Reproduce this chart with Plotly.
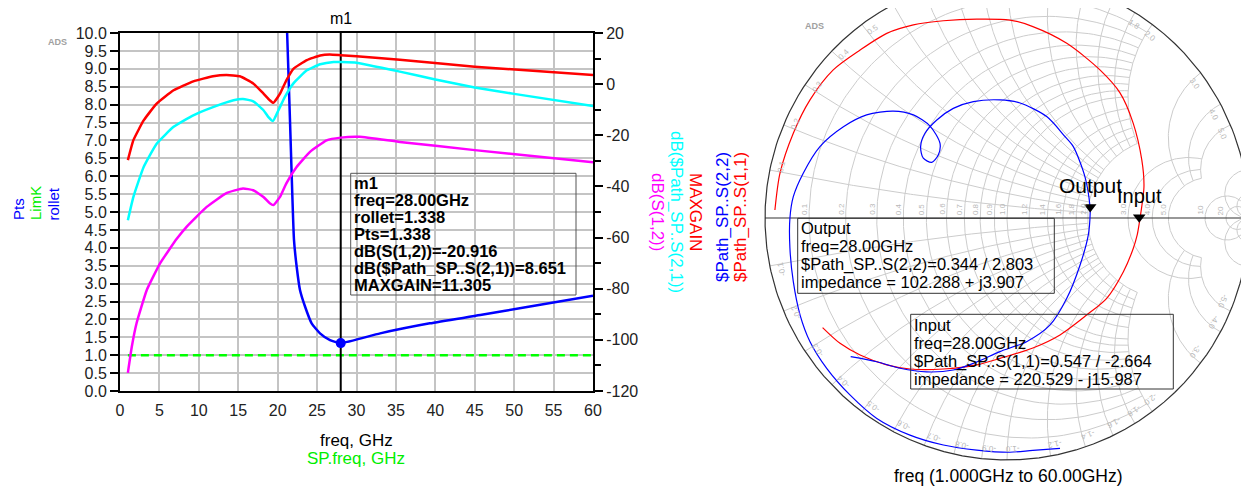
import numpy as np
import plotly.graph_objects as go

# The page body keeps its default 8px margin; the figure fills the rest of the window.
PAGE_W, PAGE_H, OFF = 1249, 496, 8
W, H = PAGE_W - 2 * OFF, PAGE_H - 2 * OFF
FONT = "Liberation Sans, Arial, sans-serif"

# ---------------- data ----------------
# Left plot, right (dB) axis
freq_maxgain = [1.0, 1.7, 3.0, 4.65, 6.8, 9.3, 11.8, 13.5, 15.2, 16.9, 18.2, 19.0, 19.45, 20.3,
                21.1, 22.0, 23.7, 25.4, 26.6, 28.0, 30.0, 35.5, 45.0, 60.0]
maxgain_db = [-29.7, -21.9, -14.2, -7.6, -2.4, 1.1, 3.1, 3.6, 3.1, 0.3, -3.7, -6.3, -7.3, -3.7,
              1.5, 6.0, 9.4, 11.2, 11.6, 11.305, 10.9, 9.5, 6.8, 3.6]

freq_s21 = [1.0, 1.7, 3.0, 4.65, 6.8, 9.3, 11.8, 14.4, 15.6, 16.9, 18.2, 18.8, 19.4, 20.1, 20.9,
            22.0, 23.7, 25.4, 27.1, 28.0, 30.0, 35.5, 40.0, 45.0, 50.0, 60.0]
s21_db = [-53.2, -44.1, -32.4, -23.3, -16.7, -12.2, -9.0, -6.3, -5.8, -6.7, -10.2, -12.8, -14.4,
          -10.2, -5.1, 0.3, 5.4, 7.8, 8.7, 8.651, 8.4, 4.9, 1.8, -1.3, -3.8, -8.6]

freq_s12 = [1.0, 1.5, 2.1, 3.4, 5.1, 7.2, 8.5, 11.0, 13.5, 15.6, 16.9, 18.2, 19.0, 19.45, 20.3,
            21.1, 22.4, 24.1, 26.2, 28.0, 30.4, 35.5, 45.0, 60.0]
s12_db = [-112.9, -102.6, -93.5, -80.5, -70.0, -60.5, -55.6, -48.0, -42.6, -40.8, -41.5, -44.1,
          -46.6, -47.3, -44.1, -38.8, -32.4, -26.5, -22.0, -20.916, -20.6, -22.6, -25.8, -30.5]

# Left plot, left axis
freq_rollet = [20.5, 21.2, 21.6, 22.07, 22.41, 22.83, 23.47, 24.31, 25.37, 26.64, 28.0, 33.0,
               39.3, 45.7, 52.0, 60.0]
rollet = [14.0, 10.0, 7.3, 4.22, 3.47, 2.82, 2.36, 1.89, 1.61, 1.42, 1.338, 1.61, 1.89, 2.12,
          2.36, 2.66]
freq_limk = [1.0, 60.0]
limk = [1.0, 1.0]

y2_tickvals = [20, 0, -20, -40, -60, -80, -100, -120]
y2_ticktext = ["20", "0", "-20", "-40", "-60", "-80", "-100", "-120"]

# marker m1
m1_freq = 28.0
m1_rollet = 1.338
m1_lines = ["m1", "freq=28.00GHz", "rollet=1.338", "Pts=1.338", "dB(S(1,2))=-20.916",
            "dB($Path_SP..S(2,1))=8.651", "MAXGAIN=11.305"]

# Smith chart: reflection coefficients (real, imag), 1 GHz -> 60 GHz
s11_re = [-0.959, -0.938, -0.883, -0.814, -0.718, -0.607, -0.497, -0.387, -0.263, -0.125, 0.012,
          0.107, 0.247, 0.384, 0.467, 0.521, 0.557, 0.566, 0.553, 0.546, 0.538, 0.522, 0.481,
          0.412, 0.329, 0.219, 0.107, -0.029, -0.125, -0.263, -0.401, -0.497, -0.607, -0.690,
          -0.762]
s11_im = [0.033, 0.185, 0.350, 0.488, 0.612, 0.694, 0.763, 0.798, 0.815, 0.822, 0.818, 0.791,
          0.722, 0.612, 0.517, 0.393, 0.240, 0.129, 0.021, -0.025, -0.070, -0.125, -0.222,
          -0.332, -0.401, -0.483, -0.537, -0.580, -0.607, -0.624, -0.624, -0.607, -0.566,
          -0.518, -0.453]
s22_re = [0.219, 0.107, 0.012, -0.125, -0.263, -0.401, -0.538, -0.649, -0.745, -0.814, -0.855,
          -0.883, -0.897, -0.897, -0.883, -0.842, -0.773, -0.676, -0.580, -0.470, -0.387,
          -0.318, -0.277, -0.284, -0.311, -0.346, -0.357, -0.339, -0.290, -0.222, -0.139,
          -0.029, 0.054, 0.164, 0.240, 0.274, 0.322, 0.343, 0.3436, 0.336, 0.302, 0.247, 0.178,
          0.081, -0.029, -0.125, -0.222, -0.332, -0.442, -0.538, -0.646]
s22_im = [-0.952, -0.960, -0.968, -0.959, -0.938, -0.897, -0.828, -0.731, -0.621, -0.511,
          -0.401, -0.263, -0.125, 0.000, 0.088, 0.185, 0.295, 0.377, 0.426, 0.442, 0.426, 0.380,
          0.309, 0.260, 0.230, 0.247, 0.295, 0.350, 0.405, 0.453, 0.481, 0.488, 0.475, 0.419,
          0.336, 0.295, 0.171, 0.047, 0.0168, -0.070, -0.194, -0.332, -0.442, -0.511, -0.552,
          -0.595, -0.628, -0.636, -0.621, -0.594, -0.573]

# marker values (magnitude / angle in degrees)
s11_mag, s11_ang = 0.547, -2.664
s22_mag, s22_ang = 0.344, 2.803
output_lines = ["Output", "freq=28.00GHz", "$Path_SP..S(2,2)=0.344 / 2.803",
                "impedance = 102.288 + j3.907"]
input_lines = ["Input", "freq=28.00GHz", "$Path_SP..S(1,1)=0.547 / -2.664",
               "impedance = 220.529 - j15.987"]

# Smith grid values
r_fine = [0.1, 0.2, 0.3, 0.4, 0.5, 0.6, 0.7, 0.8, 0.9, 1.0, 1.2, 1.4, 1.6, 1.8, 2.0]
r_mid = [3.0, 4.0, 5.0]
r_big = [10.0, 20.0]

# ---------------- layout helpers (window pixel -> paper) ----------------
def px(x):
    return (x - OFF) / W


def py(y):
    return 1 - (y - OFF) / H


XL0, XL1, YT, YB = 120, 593, 33, 391
CX, CY, R = 1007, 218, 242          # Smith chart centre / radius in window pixels
SM_X0 = 0.58
sm_left_px = OFF + SM_X0 * W
sm_right_px = OFF + W

fig = go.Figure()

# ---------------- left chart ----------------
fig.add_trace(go.Scatter(x=freq_limk, y=limk, mode="lines", xaxis="x", yaxis="y",
                         line=dict(color="#00ff00", width=2.5, dash="8px,5px"), hoverinfo="skip"))
fig.add_trace(go.Scatter(x=freq_rollet, y=rollet, mode="lines", xaxis="x", yaxis="y",
                         line=dict(color="#0000ff", width=2.5, shape="spline", smoothing=0.5)))
fig.add_trace(go.Scatter(x=freq_maxgain, y=maxgain_db, mode="lines", xaxis="x", yaxis="y2",
                         line=dict(color="#ff0000", width=2.5, shape="spline", smoothing=0.4)))
fig.add_trace(go.Scatter(x=freq_s21, y=s21_db, mode="lines", xaxis="x", yaxis="y2",
                         line=dict(color="#00ffff", width=2.5, shape="spline", smoothing=0.4)))
fig.add_trace(go.Scatter(x=freq_s12, y=s12_db, mode="lines", xaxis="x", yaxis="y2",
                         line=dict(color="#ff00ff", width=2.5, shape="spline", smoothing=0.4)))
# marker line m1
fig.add_trace(go.Scatter(x=[m1_freq, m1_freq], y=[0, 10], mode="lines", xaxis="x", yaxis="y",
                         line=dict(color="black", width=2), hoverinfo="skip"))
fig.add_trace(go.Scatter(x=[m1_freq, m1_freq], y=[10.12, -0.12], mode="markers", xaxis="x",
                         yaxis="y", cliponaxis=False,
                         marker=dict(symbol=["triangle-down", "triangle-up"], size=10,
                                     color="black")))
fig.add_trace(go.Scatter(x=[m1_freq], y=[m1_rollet], mode="markers", xaxis="x", yaxis="y",
                         marker=dict(symbol="circle", size=10, color="#0000ff")))

# ---------------- Smith chart ----------------
def zg(z):
    return (z - 1) / (z + 1)


def r_circle(r, xmax):
    xs = np.geomspace(1e-3, xmax, 260)
    x = np.concatenate([-xs[::-1], [0.0], xs])
    return zg(r + 1j * x)


def x_arc(x, rmax):
    rs = np.concatenate([[0.0], np.geomspace(1e-3, rmax, 260)])
    return zg(rs + 1j * x)


gx, gy = [], []


def add_curve(g):
    gx.extend(list(g.real) + [None])
    gy.extend(list(g.imag) + [None])


for r in r_fine:
    add_curve(r_circle(r, 2.0))
for r in r_mid:
    add_curve(r_circle(r, 5.0))
for r in r_big:
    add_curve(r_circle(r, 1e4))
for xv in r_fine:
    add_curve(x_arc(xv, 2.0))
    add_curve(x_arc(-xv, 2.0))
for xv in r_mid:
    add_curve(x_arc(xv, 5.0))
    add_curve(x_arc(-xv, 5.0))
for xv in r_big:
    add_curve(x_arc(xv, 1e4))
    add_curve(x_arc(-xv, 1e4))

fig.add_trace(go.Scatter(x=gx, y=gy, mode="lines", xaxis="x3", yaxis="y3",
                         line=dict(color="#cccccc", width=1), hoverinfo="skip"))
# real axis and outer circle
ax_line = zg(np.array([0.0, 1e9]))
fig.add_trace(go.Scatter(x=list(ax_line.real), y=[0, 0], mode="lines", xaxis="x3", yaxis="y3",
                         line=dict(color="#333333", width=1.2), hoverinfo="skip"))
outer = r_circle(0.0, 1e6)
fig.add_trace(go.Scatter(x=outer.real, y=outer.imag, mode="lines", xaxis="x3", yaxis="y3",
                         line=dict(color="#333333", width=1.2), hoverinfo="skip"))

fig.add_trace(go.Scatter(x=s11_re, y=s11_im, mode="lines", xaxis="x3", yaxis="y3",
                         line=dict(color="#ff0000", width=1.2, shape="spline", smoothing=0.8)))
fig.add_trace(go.Scatter(x=s22_re, y=s22_im, mode="lines", xaxis="x3", yaxis="y3",
                         line=dict(color="#0000ff", width=1.2, shape="spline", smoothing=0.8)))

g11 = s11_mag * np.exp(1j * np.deg2rad(s11_ang))
g22 = s22_mag * np.exp(1j * np.deg2rad(s22_ang))
off = 7.0 / R
fig.add_trace(go.Scatter(x=[g22.real, g11.real], y=[g22.imag + off, g11.imag + off],
                         mode="markers", xaxis="x3", yaxis="y3",
                         marker=dict(symbol="triangle-down", size=11, color="black")))

ann = []
grid_lbl = dict(color="#b8b8b8", size=8, family=FONT)


def lab(v):
    return f"{v:.1f}" if v < 10 else f"{int(v)}"


for r in r_fine + r_mid + r_big:
    ann.append(dict(x=(r - 1) / (r + 1), y=0, xref="x3", yref="y3", text=lab(r), textangle=-90,
                    xanchor="center", yanchor="bottom", xshift=-5, yshift=1, showarrow=False,
                    font=grid_lbl))
for xv in r_fine + r_mid + r_big:
    for sgn in (1, -1):
        g0 = zg(1j * sgn * xv)
        phi = np.angle(g0) - sgn * 0.025
        pos = 0.955 * np.exp(1j * phi)
        # skip labels that would fall off the visible window
        if CY - pos.imag * R < OFF + 12 or CX + pos.real * R > sm_right_px - 8:
            continue
        ang = 90 - np.degrees(phi)
        ann.append(dict(x=pos.real, y=pos.imag, xref="x3", yref="y3",
                        text=("" if sgn > 0 else "-") + lab(xv), textangle=float(ang),
                        xanchor="center", yanchor="middle", showarrow=False, font=grid_lbl))

ann.append(dict(x=g22.real, y=g22.imag, xref="x3", yref="y3", text="Output", xanchor="center",
                yanchor="bottom", yshift=15, showarrow=False,
                font=dict(size=21, color="black", family=FONT)))
ann.append(dict(x=g11.real, y=g11.imag, xref="x3", yref="y3", text="Input", xanchor="center",
                yanchor="bottom", yshift=15, showarrow=False,
                font=dict(size=20, color="black", family=FONT)))

# ---------------- text annotations ----------------
def text_at(x, y, t, size, color="black", xa="center", ya="middle", angle=0):
    ann.append(dict(x=px(x), y=py(y), xref="paper", yref="paper", text=t, showarrow=False,
                    xanchor=xa, yanchor=ya, textangle=angle,
                    font=dict(size=size, color=color, family=FONT)))


text_at(18, 222, "Pts", 15, "#0000ff", ya="bottom", angle=-90)
text_at(35, 222, "LimK", 15, "#00ee00", ya="bottom", angle=-90)
text_at(53, 222, "rollet", 15, "#0000ff", ya="bottom", angle=-90)
text_at(658, 212, "dB(S(1,2))", 17, "#ff00ff", angle=90)
text_at(677, 212, "dB($Path_SP..S(2,1))", 17, "#00ffff", angle=90)
text_at(696, 212, "MAXGAIN", 17, "#ff0000", angle=90)
text_at(722, 217, "$Path_SP..S(2,2)", 17, "#0000ff", angle=-90)
text_at(740, 217, "$Path_SP..S(1,1)", 17, "#ff0000", angle=-90)
text_at(356, 440, "freq, GHz", 17)
text_at(356, 458, "SP.freq, GHz", 17, "#00ee00")
text_at(1008, 488, "freq (1.000GHz to 60.00GHz)", 17.5, ya="bottom")
text_at(57, 42, "<b>ADS</b>", 9, "#a0a0a0")
text_at(814, 26, "<b>ADS</b>", 9, "#a0a0a0")
ann.append(dict(x=m1_freq, y=py(OFF + 0.5), xref="x", yref="paper", text="m1", showarrow=False,
                xanchor="center", yanchor="top", borderpad=0,
                font=dict(size=16, color="black", family=FONT)))

for i, t in enumerate(m1_lines):
    text_at(352, 182.7 + 17.05 * i, "<b>" + t + "</b>", 16.5, xa="left")
for i, t in enumerate(output_lines):
    text_at(799, 228 + 18 * i, t, 16.5, xa="left")
for i, t in enumerate(input_lines):
    text_at(912, 325 + 18 * i, t, 16.5, xa="left")

shapes = [
    dict(type="rect", xref="paper", yref="paper", x0=px(350.7), x1=px(576), y0=py(295),
         y1=py(173.3), line=dict(color="#555555", width=1), layer="above"),
    dict(type="rect", xref="paper", yref="paper", x0=px(797.7), x1=px(1054.3), y0=py(293.3),
         y1=py(218.3), line=dict(color="#333333", width=1), layer="above"),
    dict(type="rect", xref="paper", yref="paper", x0=px(910.7), x1=px(1173.3), y0=py(389),
         y1=py(314.3), line=dict(color="#333333", width=1), layer="above"),
]

tickfont = dict(size=16, color="#222222", family=FONT)
fig.update_layout(
    width=W, height=H, margin=dict(l=0, r=0, t=0, b=0, pad=0, autoexpand=False),
    paper_bgcolor="white", plot_bgcolor="white", showlegend=False,
    font=dict(family=FONT),
    xaxis=dict(domain=[px(XL0), px(XL1)], range=[0, 60], dtick=5, tick0=0, anchor="y",
               showgrid=True, gridcolor="#c4c4c4", gridwidth=2, zeroline=False, automargin=False,
               showline=True, mirror=True, linecolor="black", linewidth=2,
               ticks="", tickfont=tickfont, ticklabelstandoff=4),
    yaxis=dict(domain=[py(YB), py(YT)], range=[0, 10], dtick=0.5, tick0=0, tickformat=".1f",
               anchor="x", showgrid=True, gridcolor="#c4c4c4", gridwidth=2, zeroline=False,
               automargin=False, showline=True, mirror=True, linecolor="black", linewidth=2,
               ticks="outside", ticklen=8, tickwidth=2, tickcolor="black", tickfont=tickfont),
    yaxis2=dict(overlaying="y", side="right", anchor="x", range=[-120, 20], automargin=False,
                tickmode="array", tickvals=y2_tickvals, ticktext=y2_ticktext,
                showgrid=False, zeroline=False, showline=True, linecolor="black", linewidth=2,
                ticks="outside", ticklen=8, tickwidth=2, tickcolor="black", tickfont=tickfont,
                minor=dict(tickmode="linear", tick0=-120, dtick=10, ticks="outside",
                           ticklen=6, tickwidth=2, tickcolor="black")),
    xaxis3=dict(domain=[SM_X0, 1.0], range=[(sm_left_px - CX) / R, (sm_right_px - CX) / R],
                anchor="y3", visible=False, automargin=False),
    yaxis3=dict(domain=[0.0, 1.0], range=[(CY - (OFF + H)) / R, (CY - OFF) / R], anchor="x3",
                visible=False, automargin=False),
    annotations=ann, shapes=shapes,
)

fig.write_html("out.html", config={"displayModeBar": False})
